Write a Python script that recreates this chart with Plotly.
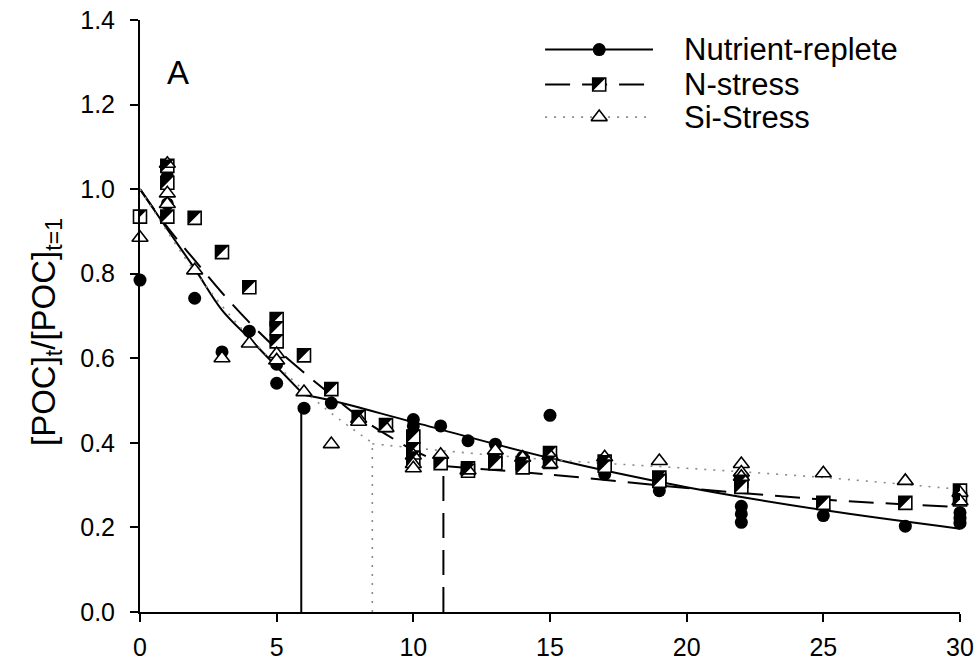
import plotly.graph_objects as go

FONT = "Liberation Sans, Arial, sans-serif"

# ---------------- data ----------------
# Nutrient-replete (filled circles)
nr_x = [0, 1, 1, 1, 2, 3, 4, 5, 5, 6, 7, 10, 10, 10, 11, 12, 13, 14, 15, 17, 19,
        22, 22, 22, 25, 28, 30, 30, 30]
nr_y = [0.785, 1.03, 1.02, 0.965, 0.742, 0.615, 0.664, 0.586, 0.541, 0.482, 0.494,
        0.455, 0.44, 0.425, 0.44, 0.405, 0.397, 0.366, 0.465, 0.326, 0.287,
        0.25, 0.232, 0.212, 0.228, 0.203, 0.235, 0.222, 0.21]

# N-stress (half-filled squares)
ns_x = [0, 1, 1, 1, 2, 3, 4, 5, 5, 5, 6, 7, 8, 9, 10, 10, 10, 11, 12, 12, 13, 13,
        14, 14, 15, 15, 17, 17, 19, 19, 22, 22, 25, 28, 30, 30]
ns_y = [0.935, 1.055, 1.015, 0.935, 0.932, 0.851, 0.768, 0.693, 0.671, 0.64, 0.607,
        0.527, 0.461, 0.442, 0.415, 0.385, 0.365, 0.352, 0.34, 0.334, 0.36, 0.352,
        0.352, 0.342, 0.376, 0.355, 0.356, 0.346, 0.318, 0.31, 0.31, 0.296,
        0.258, 0.258, 0.287, 0.266]

# Si-Stress (open triangles)
si_x = [0, 1, 1, 1, 2, 3, 4, 5, 5, 6, 7, 8, 8, 9, 10, 10, 10, 11, 12, 13, 14, 15, 15,
        17, 19, 22, 22, 22, 25, 28, 30, 30]
si_y = [0.885, 1.06, 0.99, 0.965, 0.808, 0.60, 0.635, 0.61, 0.595, 0.52, 0.397,
        0.457, 0.45, 0.435, 0.37, 0.35, 0.34, 0.372, 0.335, 0.382, 0.365, 0.37, 0.35,
        0.366, 0.357, 0.35, 0.33, 0.32, 0.328, 0.31, 0.282, 0.262]

# fitted two-phase curves
nr_fit1_x = [0, 1, 2, 3, 4, 5, 5.9]
nr_fit1_y = [1.0, 0.905, 0.812, 0.714, 0.647, 0.58, 0.52]
nr_fit2_x = [5.9, 7, 10, 15, 20, 25, 30]
nr_fit2_y = [0.515, 0.50, 0.449, 0.364, 0.295, 0.241, 0.197]

ns_fit1_x = [0, 1, 2, 3, 4, 5, 6, 7, 8, 9, 10, 11.1]
ns_fit1_y = [1.0, 0.91, 0.832, 0.755, 0.685, 0.622, 0.566, 0.513, 0.462, 0.42, 0.383, 0.35]
ns_fit2_x = [11.1, 15, 20, 25, 30]
ns_fit2_y = [0.345, 0.325, 0.293, 0.266, 0.248]

si_fit1_x = [0, 2, 4, 6, 7, 8.5]
si_fit1_y = [1.0, 0.806, 0.65, 0.524, 0.47, 0.40]
si_fit2_x = [8.5, 10, 15, 20, 25, 30]
si_fit2_y = [0.398, 0.388, 0.36, 0.34, 0.318, 0.29]

# breakpoints (vertical drop lines)
break_x = [5.9, 11.1, 8.5]
break_top = [0.48, 0.35, 0.40]

series_names = ["Nutrient-replete", "N-stress", "Si-Stress"]
x_ticks = [0, 5, 10, 15, 20, 25, 30]
y_ticks = [0.0, 0.2, 0.4, 0.6, 0.8, 1.0, 1.2, 1.4]

# ---------------- styles ----------------
SOLID = dict(color="black", width=2)
DASH = dict(color="black", width=2, dash="25px,12px")
DOT = dict(color="#8a8a8a", width=1.6, dash="2px,7px")
line_styles = [SOLID, DASH, DOT]

fig = go.Figure()

# fitted lines
for fx, fy, st in [(nr_fit1_x, nr_fit1_y, SOLID), (nr_fit2_x, nr_fit2_y, SOLID),
                   (ns_fit1_x, ns_fit1_y, DASH), (ns_fit2_x, ns_fit2_y, DASH),
                   (si_fit1_x, si_fit1_y, DOT), (si_fit2_x, si_fit2_y, DOT)]:
    fig.add_trace(go.Scatter(x=fx, y=fy, mode="lines", line=dict(st, shape="spline"),
                             showlegend=False, hoverinfo="skip"))

# breakpoint verticals
for bx, bt, st in zip(break_x, break_top, line_styles):
    fig.add_trace(go.Scatter(x=[bx, bx], y=[0, bt], mode="lines", line=st,
                             showlegend=False, hoverinfo="skip"))

# markers
fig.add_trace(go.Scatter(x=nr_x, y=nr_y, mode="markers", cliponaxis=False,
                         marker=dict(symbol="circle", size=13, color="black",
                                     line=dict(width=0)), showlegend=False))
fig.add_trace(go.Scatter(x=ns_x, y=ns_y, mode="markers", cliponaxis=False,
                         marker=dict(symbol="square", size=13, color="white",
                                     line=dict(color="black", width=1.6)), showlegend=False))
fig.add_trace(go.Scatter(x=si_x, y=si_y, mode="markers", cliponaxis=False,
                         marker=dict(symbol="triangle-up", size=14, color="white",
                                     line=dict(color="black", width=1.6)), showlegend=False))

HALF = "M-6.5,6.5L6.5,6.5L-6.5,-6.5Z"
shapes = []
for xv, yv in zip(ns_x, ns_y):
    shapes.append(dict(type="path", xref="x", yref="y", xsizemode="pixel",
                       ysizemode="pixel", xanchor=xv, yanchor=yv, path=HALF,
                       fillcolor="black", line=dict(width=0)))

# ---------------- custom legend (overlay axes in plot-fraction units) ----------------
leg_rows = [0.950, 0.891, 0.836]
leg_x0, leg_x1, leg_xm, leg_tx = 0.494, 0.6256, 0.56, 0.661
leg_markers = [dict(symbol="circle", size=13, color="black", line=dict(width=0)),
               dict(symbol="square", size=13, color="white", line=dict(color="black", width=1.6)),
               dict(symbol="triangle-up", size=14, color="white", line=dict(color="black", width=1.6))]
annotations = []
for name, ry, st, mk in zip(series_names, leg_rows, line_styles, leg_markers):
    fig.add_trace(go.Scatter(x=[leg_x0, leg_x1], y=[ry, ry], mode="lines", line=st,
                             xaxis="x2", yaxis="y2", showlegend=False, hoverinfo="skip"))
    fig.add_trace(go.Scatter(x=[leg_xm], y=[ry], mode="markers", marker=mk,
                             xaxis="x2", yaxis="y2", showlegend=False, hoverinfo="skip"))
    annotations.append(dict(text=name, xref="paper", yref="paper", x=leg_tx, y=ry,
                            xanchor="left", yanchor="middle", showarrow=False,
                            font=dict(family=FONT, size=31, color="black")))
shapes.append(dict(type="path", xref="paper", yref="paper", xsizemode="pixel",
                   ysizemode="pixel", xanchor=leg_xm, yanchor=leg_rows[1], path=HALF,
                   fillcolor="black", line=dict(width=0)))

annotations.append(dict(text="A", xref="paper", yref="paper", x=0.046, y=0.912,
                        xanchor="center", yanchor="middle", showarrow=False,
                        font=dict(family=FONT, size=33, color="black")))
annotations.append(dict(text="[POC]<sub>t</sub>/[POC]<sub>t=1</sub>", xref="paper",
                        yref="paper", x=-0.1146, y=0.473, xanchor="center",
                        yanchor="middle", textangle=-90, showarrow=False,
                        font=dict(family=FONT, size=33, color="black")))

fig.update_layout(
    width=979, height=667,
    margin=dict(l=140, r=19, t=20, b=55, pad=0, autoexpand=False),
    paper_bgcolor="white", plot_bgcolor="white",
    font=dict(family=FONT, color="black"),
    showlegend=False,
    shapes=shapes,
    annotations=annotations,
    xaxis=dict(range=[0, 30], tickvals=x_ticks, ticks="outside", ticklen=8, tickwidth=1.5,
               tickcolor="black", showline=True, linecolor="black", linewidth=2,
               showgrid=False, zeroline=False, tickfont=dict(family=FONT, size=25),
               ticklabelstandoff=4, automargin=False),
    yaxis=dict(range=[0, 1.4], tickvals=y_ticks, tickformat=".1f", ticks="outside",
               ticklen=8, tickwidth=1.5, tickcolor="black", showline=True,
               linecolor="black", linewidth=2, showgrid=False, zeroline=False,
               tickfont=dict(family=FONT, size=25), ticklabelstandoff=10,
               automargin=False),
    xaxis2=dict(overlaying="x", range=[0, 1], visible=False, fixedrange=True),
    yaxis2=dict(overlaying="y", range=[0, 1], visible=False, fixedrange=True),
)

fig.write_html("out.html")
